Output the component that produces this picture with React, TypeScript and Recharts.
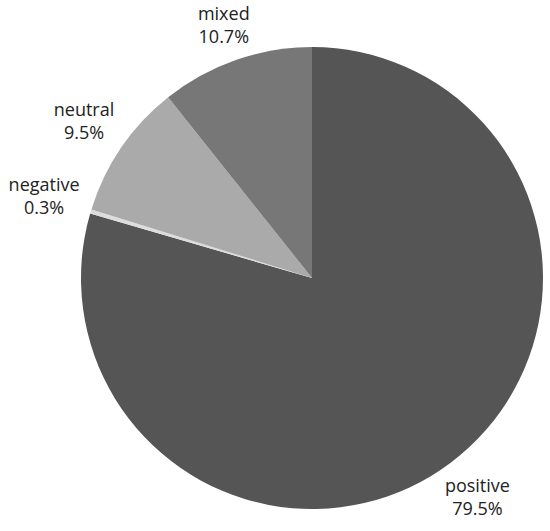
import React from 'react';
import { PieChart, Pie, Cell } from 'recharts';

const categories = ['positive', 'negative', 'neutral', 'mixed'];
const values = [79.5, 0.3, 9.5, 10.7];
const colors = ['#555555', '#dddddd', '#aaaaaa', '#777777'];

const data = categories.map((name, i) => ({ name, value: values[i] }));

const RAD = Math.PI / 180;
const FONT_SIZE = 18;
const FONT = `${FONT_SIZE}px 'Open Sans', sans-serif`;

let ctx: CanvasRenderingContext2D | null = null;
const measure = (s: string) => {
  if (!ctx && typeof document !== 'undefined') {
    ctx = document.createElement('canvas').getContext('2d');
  }
  if (ctx) {
    ctx.font = FONT;
    return ctx.measureText(s).width;
  }
  return s.length * FONT_SIZE * 0.55;
};

const renderLabel = (props: any) => {
  const { cx, cy, midAngle, outerRadius, name, value } = props;
  const pct = `${value.toFixed(1)}%`;
  const halfW = Math.max(measure(name), measure(pct)) / 2;
  const halfH = 20;
  const c = Math.cos(-midAngle * RAD);
  const s = Math.sin(-midAngle * RAD);
  const r = outerRadius + 9 + Math.abs(halfW * c) + Math.abs(halfH * s);
  const x = cx + r * c;
  const y = cy + r * s;
  return (
    <text
      x={x}
      y={y}
      textAnchor="middle"
      fill="#222"
      fontFamily="'Open Sans', sans-serif"
      fontSize={FONT_SIZE}
    >
      <tspan x={x} dy={-6}>{name}</tspan>
      <tspan x={x} dy={23}>{pct}</tspan>
    </text>
  );
};

export default function App() {
  return (
    <div style={{ position: 'absolute', left: 0, top: 0 }}>
      <PieChart width={550} height={531} margin={{ top: 0, right: 0, bottom: 0, left: 0 }}>
        <Pie
          data={data}
          dataKey="value"
          nameKey="name"
          cx={312}
          cy={278}
          outerRadius={231}
          startAngle={90}
          endAngle={-270}
          stroke="none"
          label={renderLabel}
          labelLine={false}
          isAnimationActive={false}
        >
          {data.map((d, i) => (
            <Cell key={d.name} fill={colors[i]} />
          ))}
        </Pie>
      </PieChart>
    </div>
  );
}
